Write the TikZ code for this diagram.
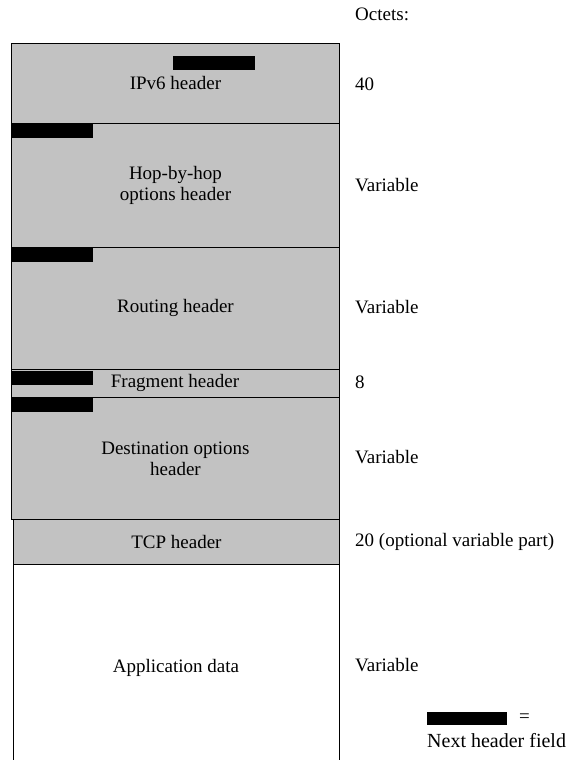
\documentclass[tikz,border=0pt]{standalone}
\usepackage{fontspec}
\setmainfont{Liberation Serif}
\newcommand{\labelfont}{\fontsize{19}{21}\selectfont}
\tikzset{
  hdr/.style={draw=black, line width=0.9pt, fill=black!24, anchor=north west,
    inner sep=0pt, minimum width=328pt, align=center, font=\labelfont},
  nhf/.style={fill=black, draw=none, anchor=north west, inner sep=0pt,
    minimum width=82pt, minimum height=14pt},
  size/.style={anchor=west, inner sep=0pt, font=\labelfont},
}
\begin{document}
\begin{tikzpicture}[x=1pt, y=-1pt]
\useasboundingbox (0,0) rectangle (567,760);
% header chain
\node[hdr, minimum height=80pt]  (ipv6) at (11,43)  {IPv6 header};
\node[hdr, minimum height=124pt] (hop)  at (11,123) {Hop-by-hop\\options header};
\node[hdr, minimum height=122pt] (rout) at (11,247) {Routing header};
\node[hdr, minimum height=28pt]  (frag) at (11,369) {};
\node[font=\labelfont] (fragt) at (175,383) {Fragment header};
\node[hdr, minimum height=122pt] (dest) at (11,397) {Destination options\\header};
\node[hdr, minimum height=45pt, minimum width=326pt] (tcp) at (13,519) {TCP header};
% application data: open at the bottom
\coordinate (appTL) at (13,564);
\coordinate (appTR) at (339,564);
\coordinate (appBL) at (13,760);
\coordinate (appBR) at (339,760);
\draw[line width=0.9pt] (appBL) -- (appTL) -- (appTR) -- (appBR);
\node[font=\labelfont] (app) at (176,668) {Application data};
% next header fields
\node[nhf] (n1) at (173,56)  {};
\node[nhf] (n2) at (11,124)  {};
\node[nhf] (n3) at (11,248)  {};
\node[nhf] (n4) at (11,371)  {};
\node[nhf] (n5) at (11,398)  {};
% octet column
\node[size] (oct) at (355,14)  {Octets:};
\node[size] (s1)  at (355,84)  {40};
\node[size] (s2)  at (355,185) {Variable};
\node[size] (s3)  at (355,307) {Variable};
\node[size] (s4)  at (355,382) {8};
\node[size] (s5)  at (355,457) {Variable};
\node[size] (s6)  at (355,542) {20 (optional variable part)};
\node[size] (s7)  at (355,665) {Variable};
% legend
\node[nhf, minimum width=80pt, minimum height=13pt] (key) at (427,712) {};
\node[size] (eq) at (519,718) {=};
\node[size, font=\fontsize{20}{22}\selectfont] (keyt) at (427,741) {Next header field};
\end{tikzpicture}
\end{document}
